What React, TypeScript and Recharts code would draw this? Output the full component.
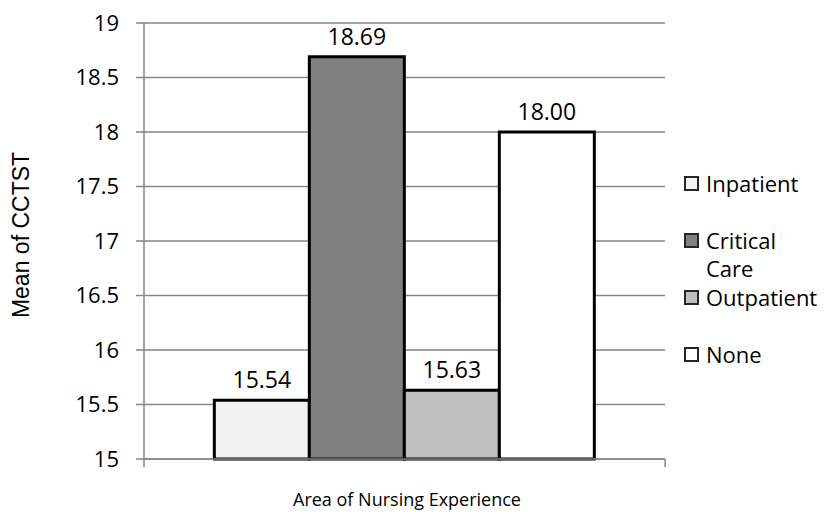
import React from "react";
import {
    BarChart,
    Bar,
    XAxis,
    YAxis,
    CartesianGrid,
    LabelList,
    Label,
} from "recharts";

// chart data
const categories = ["Area of Nursing Experience"];
const seriesNames = ["Inpatient", "Critical Care", "Outpatient", "None"];
const seriesValues = [15.54, 18.69, 15.63, 18.0];
const seriesColors = ["#f2f2f2", "#808080", "#bfbfbf", "#ffffff"];
const yTicks = [15, 15.5, 16, 16.5, 17, 17.5, 18, 18.5, 19];

const W = 827;
const H = 514;
const PLOT_LEFT = 144;
const PLOT_RIGHT = 665;
const PLOT_TOP = 23;
const PLOT_BOTTOM = 459;

const data = categories.map((c) => {
    const row: Record<string, string | number> = { name: c };
    seriesNames.forEach((s, i) => {
        row[s] = seriesValues[i];
    });
    return row;
});

const FONT = "'Open Sans', sans-serif";
const GRID = "#868686";

const EdgeTicks = () => (
    <g>
        <line x1={PLOT_LEFT} x2={PLOT_LEFT} y1={PLOT_BOTTOM} y2={PLOT_BOTTOM + 8} stroke={GRID} strokeWidth={1.5} />
        <line x1={PLOT_RIGHT} x2={PLOT_RIGHT} y1={PLOT_BOTTOM} y2={PLOT_BOTTOM + 8} stroke={GRID} strokeWidth={1.5} />
    </g>
);

const App = () => {
    return (
        <div style={{ position: "absolute", left: 0, top: 0, width: W, height: H, background: "#fff" }}>
            <BarChart
                width={W}
                height={H}
                data={data}
                margin={{ top: PLOT_TOP, right: W - PLOT_RIGHT, left: 0, bottom: 0 }}
                barCategoryGap="13.5%"
                barGap={0}
            >
                <CartesianGrid vertical={false} stroke={GRID} strokeWidth={1.5} />
                <XAxis
                    dataKey="name"
                    height={H - PLOT_BOTTOM}
                    axisLine={{ stroke: GRID, strokeWidth: 1.5 }}
                    tickLine={false}
                    tick={<EdgeTicks />}
                >
                    <Label
                        content={() => (
                            <text x={407} y={501} textAnchor="middle" dominantBaseline="middle" fontFamily={FONT} fontSize={18} fill="#000">
                                Area of Nursing Experience
                            </text>
                        )}
                    />
                </XAxis>
                <YAxis
                    width={PLOT_LEFT}
                    domain={[15, 19]}
                    ticks={yTicks}
                    interval={0}
                    axisLine={{ stroke: GRID, strokeWidth: 1.5 }}
                    tickLine={{ stroke: GRID, strokeWidth: 1.5 }}
                    tickSize={8}
                    tickMargin={17}
                    tick={{ fill: "#000", fontFamily: FONT, fontSize: 22 }}
                >
                    <Label
                        content={() => (
                            <text
                                x={23}
                                y={235}
                                transform="rotate(-90 23 235)"
                                textAnchor="middle"
                                dominantBaseline="middle"
                                fontFamily="'Liberation Sans', Arial, sans-serif"
                                fontSize={23}
                                fill="#000"
                            >
                                Mean of CCTST
                            </text>
                        )}
                    />
                </YAxis>
                {seriesNames.map((s, i) => (
                    <Bar
                        key={s}
                        dataKey={s}
                        fill={seriesColors[i]}
                        stroke="#000"
                        strokeWidth={3}
                        isAnimationActive={false}
                    >
                        <LabelList
                            dataKey={s}
                            position="top"
                            offset={12}
                            formatter={(v: any) => Number(v).toFixed(2)}
                            style={{ fill: "#000", fontFamily: FONT, fontSize: 23 }}
                        />
                    </Bar>
                ))}
            </BarChart>

            {/* legend */}
            {seriesNames.map((s, i) => {
                const cy = 183 + i * 57;
                return (
                    <div key={s} style={{ position: "absolute", left: 684, top: cy - 14 }}>
                        <div
                            style={{
                                position: "absolute",
                                left: 0,
                                top: 7,
                                width: 11,
                                height: 11,
                                background: seriesColors[i],
                                border: "2.5px solid #262626",
                            }}
                        />
                        <div
                            style={{
                                position: "absolute",
                                left: 22,
                                top: 0,
                                width: "min-content",
                                fontFamily: FONT,
                                fontSize: 22,
                                lineHeight: "28px",
                                color: "#000",
                            }}
                        >
                            {s}
                        </div>
                    </div>
                );
            })}
        </div>
    );
};

export default App;
